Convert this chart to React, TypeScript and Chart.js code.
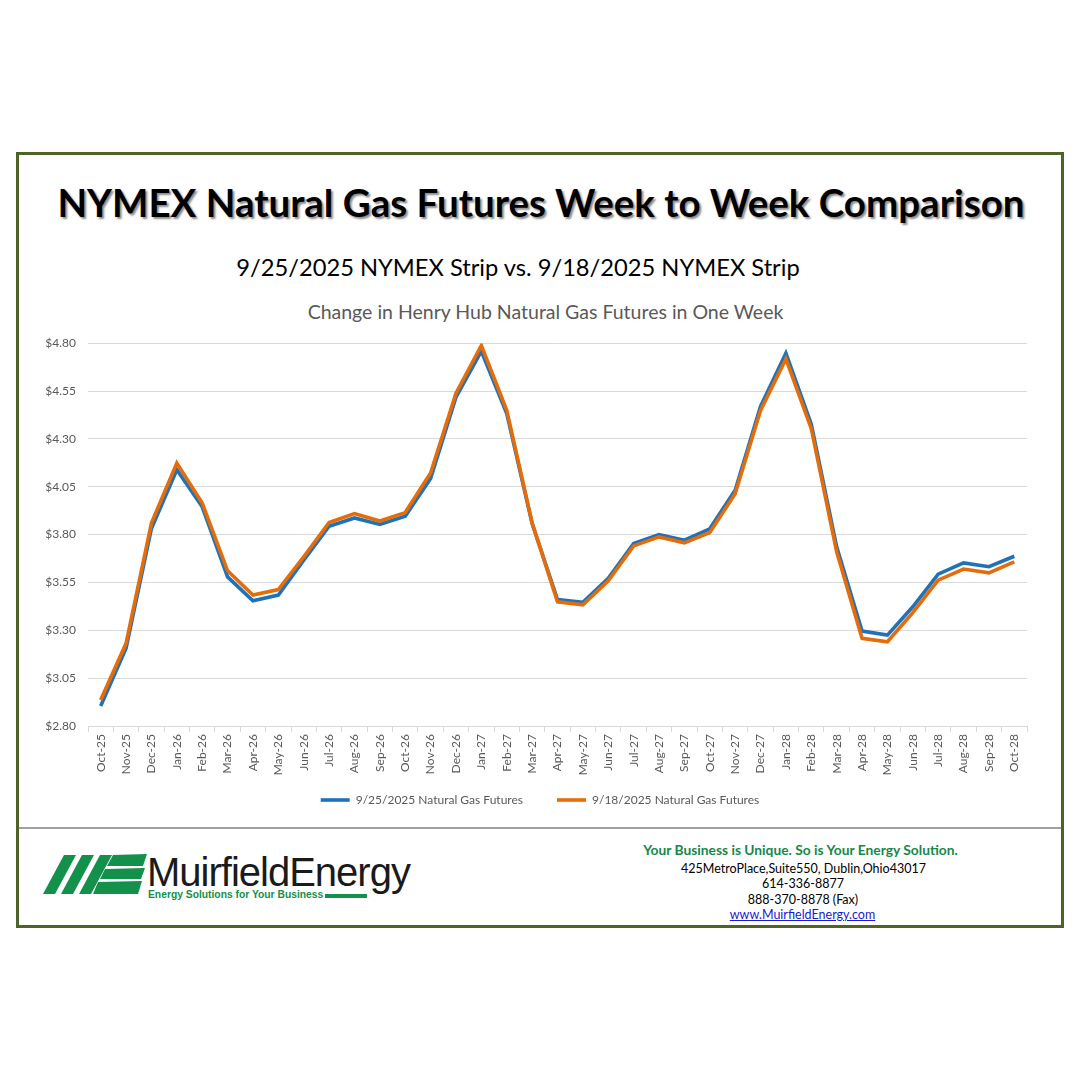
import React, { useEffect, useRef } from "react";
import { Chart, registerables } from "chart.js";

Chart.register(...registerables);

const months = [
  "Oct-25", "Nov-25", "Dec-25", "Jan-26", "Feb-26", "Mar-26", "Apr-26", "May-26", "Jun-26", "Jul-26", "Aug-26", "Sep-26",
  "Oct-26", "Nov-26", "Dec-26", "Jan-27", "Feb-27", "Mar-27", "Apr-27", "May-27", "Jun-27", "Jul-27", "Aug-27", "Sep-27",
  "Oct-27", "Nov-27", "Dec-27", "Jan-28", "Feb-28", "Mar-28", "Apr-28", "May-28", "Jun-28", "Jul-28", "Aug-28", "Sep-28",
  "Oct-28",
];

const futures0925 = [
  2.905, 3.206, 3.832, 4.139, 3.945, 3.579, 3.454, 3.484, 3.666, 3.844, 3.887, 3.853,
  3.896, 4.093, 4.518, 4.758, 4.432, 3.858, 3.461, 3.446, 3.571, 3.754, 3.800, 3.771,
  3.830, 4.032, 4.470, 4.748, 4.376, 3.736, 3.296, 3.275, 3.423, 3.593, 3.652, 3.632,
  3.687,
];

const futures0918 = [
  2.936, 3.232, 3.861, 4.174, 3.965, 3.611, 3.484, 3.513, 3.684, 3.863, 3.910, 3.871,
  3.915, 4.122, 4.539, 4.788, 4.449, 3.861, 3.449, 3.433, 3.559, 3.741, 3.788, 3.757,
  3.811, 4.014, 4.449, 4.718, 4.353, 3.710, 3.258, 3.240, 3.392, 3.562, 3.620, 3.600,
  3.658,
];

const seriesLabels = ["9/25/2025 Natural Gas Futures", "9/18/2025 Natural Gas Futures"];
const yMin = 2.8;
const yMax = 4.8;
const yStep = 0.25;

const BLUE = "#1F72B8";
const ORANGE = "#E46C0A";
const GRAY = "#595959";
const FONT = "Lato, 'Open Sans', sans-serif";

function Line(props: { y: number; fs: number; children: React.ReactNode; style?: React.CSSProperties; cx?: number; w?: number }) {
  const { y, fs, children, style, cx = 540, w = 1040 } = props;
  return (
    <div
      style={{
        position: "absolute",
        left: cx - w / 2,
        width: w,
        top: y - 0.527 * fs,
        fontSize: fs,
        lineHeight: 1,
        textAlign: "center",
        fontFamily: FONT,
        whiteSpace: "nowrap",
        ...style,
      }}
    >
      {children}
    </div>
  );
}

function Logo() {
  const green = "#13904A";
  return (
    <div style={{ position: "absolute", left: 0, top: 0 }}>
      <svg width={160} height={60} style={{ position: "absolute", left: 30, top: 845 }}>
        <polygon points="13,49 25,49 46,10 34,10" fill={green} />
        <polygon points="31,49 43,49 64,10 52,10" fill={green} />
        <polygon points="49,49 61,49 82,10 70,10" fill={green} />
        <polygon points="77,21 83,10 117,9 113,21" fill={green} />
        <polygon points="70,34 75,24 115,23 111,34" fill={green} />
        <polygon points="63,49 68,37 112,36 108,49" fill={green} />
      </svg>
      <div
        style={{
          position: "absolute",
          left: 147,
          top: 858 - 0.16 * 40,
          fontFamily: "'Liberation Sans', Arial, sans-serif",
          fontSize: 40,
          lineHeight: 1,
          letterSpacing: -1,
          color: "#1a1a1a",
          whiteSpace: "nowrap",
        }}
      >
        MuirfieldEnergy
      </div>
      <div
        style={{
          position: "absolute",
          left: 148,
          top: 890,
          fontFamily: "'Liberation Sans', Arial, sans-serif",
          fontSize: 10.3,
          fontWeight: 700,
          lineHeight: 1,
          color: green,
          whiteSpace: "nowrap",
        }}
      >
        Energy Solutions for Your Business
      </div>
      <div style={{ position: "absolute", left: 325, top: 894, width: 42, height: 4, background: green }} />
    </div>
  );
}

export default function App() {
  const canvasRef = useRef<HTMLCanvasElement | null>(null);

  useEffect(() => {
    if (!canvasRef.current) return;
    const chart = new Chart(canvasRef.current, {
      type: "line",
      data: {
        labels: months,
        datasets: [
          {
            label: seriesLabels[0],
            data: futures0925,
            borderColor: BLUE,
            backgroundColor: BLUE,
            borderWidth: 3.6,
            pointRadius: 0,
            tension: 0,
            fill: false,
            order: 1,
            yAxisID: "y",
          },
          {
            label: seriesLabels[1],
            data: futures0918,
            borderColor: ORANGE,
            backgroundColor: ORANGE,
            borderWidth: 3.6,
            pointRadius: 0,
            tension: 0,
            fill: false,
            order: 0,
            yAxisID: "y",
          },
        ],
      },
      options: {
        responsive: false,
        animation: false,
        layout: { padding: { left: 0, right: 0, top: 7, bottom: 4 } },
        plugins: {
          title: { display: false },
          tooltip: { enabled: false },
          legend: {
            display: true,
            position: "bottom",
            labels: {
              usePointStyle: true,
              pointStyle: "line",
              pointStyleWidth: 29,
              padding: 34,
              color: GRAY,
              font: { family: FONT, size: 12 },
              sort: (a: any, b: any) => a.datasetIndex - b.datasetIndex,
            },
          },
        },
        scales: {
          x: {
            type: "category",
            offset: true,
            grid: {
              offset: true,
              drawOnChartArea: false,
              drawTicks: true,
              tickLength: 6,
              color: "#d9d9d9",
            },
            border: { display: true, color: "#d9d9d9" },
            ticks: {
              autoSkip: false,
              minRotation: 90,
              maxRotation: 90,
              padding: 2,
              color: GRAY,
              font: { family: FONT, size: 12 },
            },
            afterFit: (s: any) => {
              s.height = 34;
              s._computeLabelArea = () => undefined;
            },
          },
          y: {
            position: "left",
            min: yMin,
            max: yMax,
            grid: { color: "#d9d9d9", drawTicks: false },
            border: { display: false },
            ticks: {
              stepSize: yStep,
              padding: 12,
              color: GRAY,
              font: { family: FONT, size: 12 },
              callback: (v: any) => "$" + Number(v).toFixed(2),
            },
            afterFit: (s: any) => {
              s.width = 88;
            },
          },
          yRight: {
            type: "linear",
            position: "right",
            display: true,
            grid: { display: false, drawOnChartArea: false, drawTicks: false },
            border: { display: false },
            ticks: { display: false },
            afterFit: (s: any) => {
              s.width = 53;
            },
          },
        },
      },
    });
    return () => chart.destroy();
  }, []);

  return (
    <div style={{ position: "absolute", left: 0, top: 0, width: 1080, height: 1080, background: "#fff", overflow: "hidden" }}>
      <div
        style={{
          position: "absolute",
          left: 16,
          top: 152,
          width: 1048 - 6,
          height: 776 - 6,
          border: "3px solid #4F6228",
        }}
      />
      <Line y={203.5} fs={38.5} style={{ fontWeight: 700, color: "#000", textShadow: "2px 2px 2px rgba(0,0,0,0.45)" }} cx={541}>
        NYMEX Natural Gas Futures Week to Week Comparison
      </Line>
      <Line y={268} fs={23.7} style={{ color: "#000" }} cx={518}>
        9/25/2025 NYMEX Strip vs. 9/18/2025 NYMEX Strip
      </Line>
      <Line y={312} fs={19.5} style={{ color: GRAY }} cx={545.5}>
        Change in Henry Hub Natural Gas Futures in One Week
      </Line>
      <div style={{ position: "absolute", left: 0, top: 324, width: 1080, height: 496 }}>
        <canvas ref={canvasRef} width={1080} height={496} style={{ display: "block" }} />
      </div>
      <div style={{ position: "absolute", left: 19, top: 827, width: 1042, height: 1.5, background: "#a0a0a0" }} />
      <Logo />
      <Line y={850} fs={13.8} cx={800.5} w={400} style={{ fontWeight: 700, color: "#16884A" }}>
        Your Business is Unique. So is Your Energy Solution.
      </Line>
      <Line y={869.5} fs={12.5} cx={803.5} w={400} style={{ color: "#000" }}>
        425MetroPlace,Suite550, Dublin,Ohio43017
      </Line>
      <Line y={885} fs={12.5} cx={803} w={400} style={{ color: "#000" }}>
        614-336-8877
      </Line>
      <Line y={900.5} fs={12.5} cx={803} w={400} style={{ color: "#000" }}>
        888-370-8878 (Fax)
      </Line>
      <Line y={915.5} fs={12.5} cx={802.5} w={400} style={{ color: "#1a1aD0", textDecoration: "underline" }}>
        www.MuirfieldEnergy.com
      </Line>
    </div>
  );
}
